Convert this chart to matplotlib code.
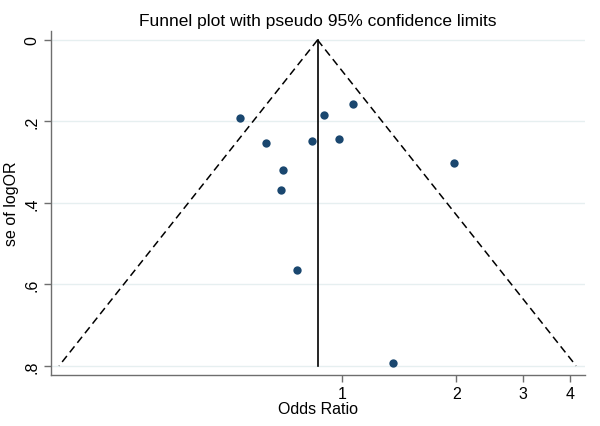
import numpy as np
import matplotlib
matplotlib.use("Agg")
import matplotlib.pyplot as plt
import matplotlib.ticker as mticker

plt.rcParams["font.family"] = ["Liberation Sans", "DejaVu Sans"]

# 研究点：比值比与对数比值比标准误
odds_ratio = [0.538, 0.633, 0.699, 0.691, 0.832, 0.898, 0.980, 1.073, 1.969, 0.760, 1.365]
se_logor = [0.191, 0.252, 0.318, 0.368, 0.247, 0.185, 0.242, 0.157, 0.301, 0.564, 0.794]

pooled_or = 0.863
se_max = 0.8
z95 = 1.96

y_ticks = [0, 0.2, 0.4, 0.6, 0.8]
y_labels = ["0", ".2", ".4", ".6", ".8"]
x_ticks = [1, 2, 3, 4]
x_labels = ["1", "2", "3", "4"]

fig = plt.figure(figsize=(6, 4.27), dpi=100)
ax = fig.add_axes([0.0845, 0.119, 0.8905, 0.806])

ax.set_xscale("log")
ax.set_xlim(0.171, 4.37)
ax.set_ylim(0.823, -0.022)

# 网格线
for yv in y_ticks:
    ax.axhline(yv, color="#e6eff0", lw=1.0, zorder=0)

# 漏斗 95% 伪置信限
se_line = np.array([0.0, se_max])
lo = np.exp(np.log(pooled_or) - z95 * se_line)
hi = np.exp(np.log(pooled_or) + z95 * se_line)
ax.plot(lo, se_line, color="black", lw=1.1, ls=(0, (5, 3)))
ax.plot(hi, se_line, color="black", lw=1.1, ls=(0, (5, 3)))
ax.plot([pooled_or, pooled_or], [0, se_max], color="black", lw=1.2)

ax.scatter(odds_ratio, se_logor, s=36, color="#1a476f", zorder=3, linewidths=0)

ax.xaxis.set_major_locator(mticker.FixedLocator(x_ticks))
ax.xaxis.set_major_formatter(mticker.FixedFormatter(x_labels))
ax.xaxis.set_minor_locator(mticker.NullLocator())
ax.set_yticks(y_ticks)
ax.set_yticklabels(y_labels, rotation=90, va="center")

for side in ["top", "right"]:
    ax.spines[side].set_visible(False)
for side in ["left", "bottom"]:
    ax.spines[side].set_color("#6e6e6e")
    ax.spines[side].set_linewidth(1.0)

ax.tick_params(axis="both", direction="out", length=5, width=1, color="#6e6e6e",
               labelsize=11.5, pad=3)

ax.set_xlabel("Odds Ratio", fontsize=11.5, labelpad=0)
ax.set_ylabel("se of logOR", fontsize=11.5, labelpad=4)
ax.set_title("Funnel plot with pseudo 95% confidence limits", fontsize=12.5, pad=4)

fig.savefig("out.png", dpi=100)
